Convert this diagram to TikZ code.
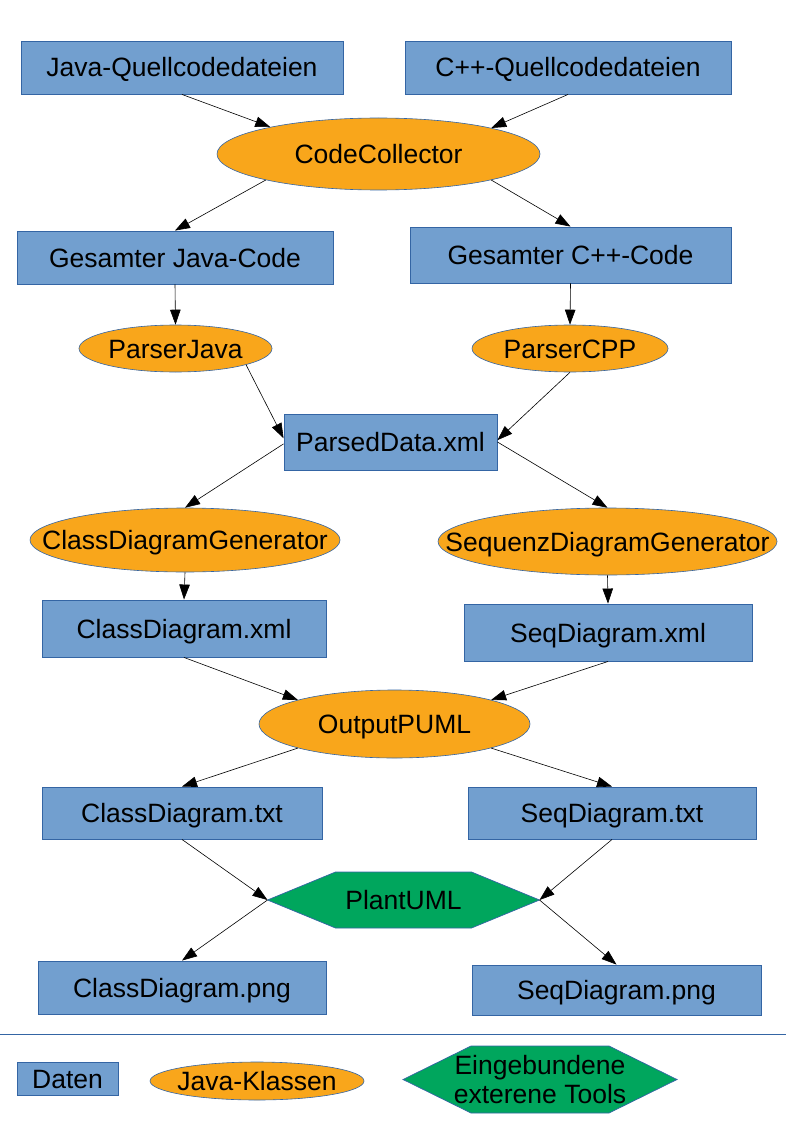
\documentclass[tikz,border=0pt]{standalone}
\usepackage{fontspec}
\setmainfont{Liberation Sans}
\usetikzlibrary{arrows.meta,shapes.geometric,backgrounds}
\definecolor{boxblue}{HTML}{729FCF}
\definecolor{lineblue}{HTML}{3465A4}
\definecolor{ellorange}{HTML}{F9A61B}
\definecolor{hexgreen}{HTML}{00A65D}
\newcommand{\zw}[1]{\makebox[0pt]{#1}}
\tikzset{
  every node/.style={text height=19pt, text depth=0pt},
  databox/.style={rectangle, draw=lineblue, line width=0.9pt, fill=boxblue, inner sep=0pt, align=center},
  javacls/.style={ellipse, draw=lineblue, line width=0.6pt, fill=ellorange, inner sep=0pt},
  hexnode/.style={rectangle, inner sep=0pt, outer sep=0pt, align=center},
  hexshape/.style={draw=lineblue, line width=0.7pt, fill=hexgreen},
  conn/.style={draw=black, line width=0.6pt, -{Triangle[length=15pt,width=10.5pt]}},
}
\begin{document}
\begin{tikzpicture}[x=1pt,y=-1pt,font=\fontsize{26.5}{29}\selectfont]
\useasboundingbox (0,0) rectangle (794,1123);
\node[databox, minimum width=322, minimum height=53] (jq) at (182,67.5) {Java-Quellcodedateien};
\node[databox, minimum width=326, minimum height=53] (cq) at (568,67.5) {C++-Quellcodedateien};
\node[javacls, minimum width=323, minimum height=72] (cc) at (378.5,154) {\zw{CodeCollector}};
\node[databox, minimum width=316, minimum height=53] (gj) at (175,257.5) {Gesamter Java-Code};
\node[databox, minimum width=321, minimum height=56] (gc) at (570.5,255) {Gesamter C++-Code};
\node[javacls, minimum width=193, minimum height=47] (pj) at (175.5,348.5) {\zw{ParserJava}};
\node[javacls, minimum width=196, minimum height=47] (pc) at (570,348.5) {\zw{ParserCPP}};
\node[databox, minimum width=213, minimum height=56] (pd) at (390.5,442) {ParsedData.xml};
\node[javacls, minimum width=310, minimum height=64] (cdg) at (185,540) {\zw{ClassDiagramGenerator}};
\node[javacls, minimum width=339, minimum height=67] (sdg) at (607.5,541.5) {\zw{SequenzDiagramGenerator}};
\node[databox, minimum width=284, minimum height=57] (cx) at (184,628.5) {ClassDiagram.xml};
\node[databox, minimum width=288, minimum height=57] (sx) at (608,632.5) {SeqDiagram.xml};
\node[javacls, minimum width=271, minimum height=68] (op) at (394.5,724) {\zw{OutputPUML}};
\node[databox, minimum width=280, minimum height=52] (ct) at (182,813) {ClassDiagram.txt};
\node[databox, minimum width=288, minimum height=52] (st) at (612,813) {SeqDiagram.txt};
\node[hexnode, minimum width=272, minimum height=56] (pu) at (403.5,900) {PlantUML};
\node[databox, minimum width=288, minimum height=53] (cp) at (182,987.5) {ClassDiagram.png};
\node[databox, minimum width=289, minimum height=50] (sp) at (616.5,990) {SeqDiagram.png};
% legend
\coordinate (la) at (0,1034);
\coordinate (lb) at (786,1034);
\draw[lineblue, line width=0.9pt] (la) -- (lb);
\node[databox, minimum width=101, minimum height=33] (lg1) at (67.5,1078.5) {Daten};
\node[javacls, minimum width=214, minimum height=38] (lg2) at (257,1081) {\zw{Java-Klassen}};
\node[hexnode, text height=, text depth=, minimum width=274, minimum height=67] (lg3) at (540,1079.5) {Eingebundene\\exterene Tools};
\begin{scope}[on background layer]
\draw[hexshape] (pu.west) -- ([xshift=68]pu.north west) -- ([xshift=-68]pu.north east) -- (pu.east) -- ([xshift=-68]pu.south east) -- ([xshift=68]pu.south west) -- cycle;
\draw[hexshape] (lg3.west) -- ([xshift=68]lg3.north west) -- ([xshift=-68]lg3.north east) -- (lg3.east) -- ([xshift=-68]lg3.south east) -- ([xshift=68]lg3.south west) -- cycle;
\end{scope}
% connectors
\draw[conn] (jq.south) -- (cc.166.6);
\draw[conn] (cq.south) -- (cc.13.4);
\draw[conn] (cc.193.4) -- (gj.north);
\draw[conn] (cc.-13.4) -- (gc.north);
\draw[conn] (gj.south) -- (pj.north);
\draw[conn] (gc.south) -- (pc.north);
\draw[conn] (pj.-13) -- (pd.178);
\draw[conn] (pc.south) -- (pd.1);
\draw[conn] (pd.181) -- (cdg.north);
\draw[conn] (pd.east) -- (sdg.north);
\draw[conn] (cdg.south) -- (cx.north);
\draw[conn] (sdg.south) -- (sx.north);
\draw[conn] (cx.south) -- (op.166);
\draw[conn] (sx.south) -- (op.14);
\draw[conn] (op.194) -- (ct.north);
\draw[conn] (op.-14) -- (st.north);
\draw[conn] (ct.south) -- (pu.west);
\draw[conn] (st.south) -- (pu.east);
\draw[conn] (pu.west) -- (cp.north);
\draw[conn] (pu.east) -- (sp.north);
\end{tikzpicture}
\end{document}
